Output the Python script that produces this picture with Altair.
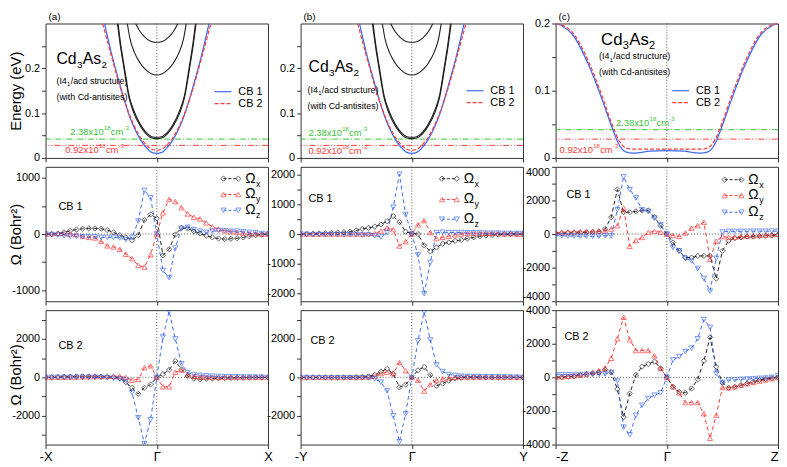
import json
import altair as alt
import pandas as pd

FONT = "Liberation Sans"
BLACK = "#1e1e1e"
RED = "#ff3a3a"
BLUE = "#3f6df2"
GREEN = "#36c236"
GRAY = "#555555"

# ---------------- band energies (eV), panels (a) and (b) ----------------
AB_CB1_K = [-0.47, -0.40, -0.35, -0.30, -0.25, -0.20, -0.15, -0.10, -0.05, 0.00,
            0.05, 0.10, 0.15, 0.20, 0.25, 0.30, 0.35, 0.40, 0.47]
AB_CB1_E = [0.300, 0.226, 0.180, 0.136, 0.097, 0.066, 0.042, 0.025, 0.013, 0.010,
            0.013, 0.025, 0.042, 0.066, 0.097, 0.136, 0.180, 0.226, 0.300]
AB_CB2_K = [-0.487, -0.40, -0.35, -0.30, -0.25, -0.20, -0.15, -0.10, -0.05, 0.00,
            0.05, 0.10, 0.15, 0.20, 0.25, 0.30, 0.35, 0.40, 0.487]
AB_CB2_E = [0.300, 0.220, 0.175, 0.135, 0.099, 0.070, 0.047, 0.031, 0.020, 0.017,
            0.020, 0.031, 0.047, 0.070, 0.099, 0.135, 0.175, 0.220, 0.300]
AB_BLK1_K = [-0.354, -0.33, -0.295, -0.25, -0.206, -0.15, -0.10, -0.05, 0.0,
             0.05, 0.10, 0.15, 0.206, 0.25, 0.295, 0.33, 0.354]
AB_BLK1_E = [0.300, 0.255, 0.200, 0.135, 0.100, 0.072, 0.055, 0.045, 0.043,
             0.045, 0.055, 0.072, 0.100, 0.135, 0.200, 0.255, 0.300]
AB_BLK2_K = [-0.348, -0.325, -0.29, -0.25, -0.20, -0.15, -0.10, -0.05, 0.0,
             0.05, 0.10, 0.15, 0.20, 0.25, 0.29, 0.325, 0.348]
AB_BLK2_E = [0.300, 0.255, 0.200, 0.140, 0.102, 0.076, 0.058, 0.048, 0.046,
             0.048, 0.058, 0.076, 0.102, 0.140, 0.200, 0.255, 0.300]
AB_BLK3_K = [-0.265, -0.24, -0.20, -0.15, -0.10, -0.05, 0.0, 0.05, 0.10, 0.15, 0.20, 0.24, 0.265]
AB_BLK3_E = [0.300, 0.265, 0.235, 0.212, 0.197, 0.188, 0.185, 0.188, 0.197, 0.212, 0.235, 0.265, 0.300]
AB_BLK4_K = [-0.19, -0.15, -0.10, -0.05, 0.0, 0.05, 0.10, 0.15, 0.19]
AB_BLK4_E = [0.300, 0.282, 0.268, 0.260, 0.258, 0.260, 0.268, 0.282, 0.300]

# ---------------- band energies (eV), panel (c) ----------------
C_K = [-1.0, -0.95, -0.85, -0.70, -0.58, -0.49, -0.43, -0.37, -0.30, -0.15, 0.0,
       0.15, 0.30, 0.37, 0.43, 0.49, 0.58, 0.70, 0.85, 0.95, 1.0]
C_CB1_E = [0.200, 0.197, 0.184, 0.137, 0.086, 0.044, 0.020, 0.009, 0.007, 0.010, 0.011,
           0.010, 0.007, 0.009, 0.020, 0.044, 0.086, 0.137, 0.184, 0.197, 0.200]
C_CB2_E = [0.200, 0.198, 0.187, 0.142, 0.091, 0.049, 0.026, 0.015, 0.013, 0.013, 0.013,
           0.013, 0.013, 0.015, 0.026, 0.049, 0.091, 0.142, 0.187, 0.198, 0.200]

FERMI_GREEN = [0.042]
FERMI_RED = [0.028]
GAMMA = [0.0]
ZERO = [0.0]

# ---------------- Berry curvature (Bohr^2) on a uniform k path ----------------
K_STEPS = 36
KX = [round(-1 + 2 * i / K_STEPS, 5) for i in range(K_STEPS + 1)]

A_CB1_X = [0, 0, 10, 30, 60, 80, 95, 100, 100, 95, 70, 30, -20, -60, -110, -20, 250, 350, 280,
           -380, -270, -10, 110, 100, 50, 10, -30, -60, -80, -90, -85, -75, -60, -40, -20, -10, 0]
A_CB1_Y = [0, 5, 10, 10, 5, -10, -40, -60, -70, -130, -210, -230, -270, -360, -440, -560, -590, -370, 0,
           380, 620, 580, 470, 360, 300, 270, 200, 130, 90, 60, 40, 30, 20, 10, 5, 0, 0]
A_CB1_Z = [0, -10, -20, -30, -40, -40, -50, -50, -50, -60, -60, -60, -70, -100, -60, 230, 780, 650, 0,
           -650, -780, -250, 100, 120, 80, 50, 30, 50, 60, 60, 50, 50, 40, 30, 20, 10, 0]

A_CB2_X = [0, 0, 10, 30, 40, 50, 50, 50, 50, 40, 30, 20, -50, -250, -540, -860, -540, -370, 0,
           170, 390, 850, 410, 70, -60, -100, -80, -60, -50, -40, -30, -20, -20, -10, 0, 0, 0]
A_CB2_Y = [0, 0, 10, 10, 20, 20, 30, 30, 40, 40, 50, 50, 60, 0, -150, -100, 500, 600, 0,
           -490, -490, 270, 390, 150, 60, 30, 20, 20, 10, 10, 10, 0, 0, 0, 0, 0, 0]
A_CB2_Z = [0, 0, 0, 0, 0, 0, 0, 0, 0, -10, -20, -50, -100, -150, -800, -2100, -3450, -2200, 0,
           2100, 3450, 2000, 700, 250, 150, 100, 80, 60, 50, 40, 30, 30, 20, 20, 10, 10, 0]

B_CB1_X = [0, 0, 10, 20, 30, 40, 50, 60, 80, 120, 170, 210, 250, 320, 430, 600, 400, 80, 20,
           0, -380, -580, -450, -320, -280, -230, -200, -150, -110, -80, -50, -30, -20, -10, 0, 0, 0]
B_CB1_Y = [0, 0, 0, 0, 0, 0, 0, 0, 0, 0, 0, 10, 20, 100, 200, 150, -400, -250, 0,
           310, 450, 50, -150, -110, -70, -30, 0, 20, 30, 30, 30, 20, 20, 10, 10, 0, 0]
B_CB1_Z = [0, -10, -20, -20, -20, -20, -20, -20, -20, -20, -30, -30, -60, -100, 50, 900, 2000, 650, 0,
           -700, -2000, -950, 50, 60, 50, 50, 50, 40, 40, 40, 30, 30, 30, 20, 20, 20, 20]

B_CB2_X = [0, 0, 0, 0, 0, 0, 0, 0, 0, 10, 20, 50, 130, 300, 440, 190, -520, -370, 0,
           370, 540, 130, -440, -320, -170, -60, -20, 0, 0, 0, 0, 0, 0, 0, 0, 0, 0]
B_CB2_Y = [0, 0, 0, 0, 0, 0, 0, 0, 0, 0, 0, 20, 50, 200, 270, 200, 780, 350, 0,
           -150, -710, -370, -150, -80, -30, 0, 20, 20, 20, 20, 20, 20, 10, 10, 10, 0, 0]
B_CB2_Z = [0, -10, -20, -20, -20, -20, -20, -20, -20, -20, -20, -30, -80, -250, -700, -2000, -3350, -1900, 0,
           1900, 3400, 1950, 650, 300, 150, 100, 60, 50, 40, 40, 30, 30, 20, 20, 10, 10, 0]

C_CB1_X = [50, 50, 60, 60, 80, 100, 120, 150, 300, 1000, 2650, 1300, 1300, 1350, 1400, 1400, 1000, 500, 0,
           -500, -1000, -1400, -1400, -1300, -1300, -1300, -2650, -1000, -400, -250, -200, -150, -150, -120, -100, -80, -50]
C_CB1_Y = [100, 100, 120, 130, 150, 160, 170, 180, 200, 300, 500, 1550, -730, -380, -200, 100, 160, 120, 0,
           -80, -140, 60, 350, 500, 700, -1500, -430, -150, -200, -180, -150, -120, -100, -80, -60, -40, -20]
C_CB1_Z = [-100, -100, -120, -120, -130, -130, -130, -130, -100, -100, 1450, 3400, 2650, 2150, 1450, 1350, 950, 550, 0,
           -800, -1000, -1450, -1600, -2050, -2650, -3400, -1450, 120, 160, 160, 160, 160, 170, 170, 170, 170, 170]

C_CB2_X = [0, 20, 40, 60, 140, 180, 240, 300, 450, 300, -700, -2360, -960, 140, 640, 800, 940, 540, 0,
           -560, -860, -920, -660, -120, 980, 2380, 640, -320, -620, -560, -460, -360, -260, -160, -100, -50, 0]
C_CB2_Y = [0, 30, 60, 100, 140, 200, 300, 400, 560, 1140, 2300, 3580, 2240, 1600, 1600, 1600, 1280, 540, 0,
           -560, -920, -1500, -1500, -1500, -2160, -3620, -2260, -600, -620, -560, -460, -380, -300, -220, -150, -80, 0]
C_CB2_Z = [150, 160, 160, 170, 170, 180, 180, 180, 200, 300, -220, -2960, -3420, -2260, -1660, -1260, -1060, -920, 0,
           1040, 1240, 1540, 1740, 2300, 3440, 2980, 240, -300, -160, -150, -120, -100, -80, -60, -40, 0, 100]

W = 225
H = 136
ONE = alt.Data(values=[{"a": 1}])

# advance widths (em, Liberation Sans) used to chain sub/superscript pieces
ADV = {"0": .556, "1": .556, "2": .556, "3": .556, "4": .556, "5": .556, "6": .556, "7": .556,
       "8": .556, "9": .556, ".": .278, "x": .5, "c": .5, "m": .833, "C": .722, "d": .556,
       "A": .667, "s": .5, "-": .333, "(": .333, "I": .278}


def tw(s, size):
    return sum(ADV.get(ch, .5) for ch in s) * size


def txt(s, x, y, size=12, color="black", align="left", baseline="middle"):
    return alt.Chart(ONE).mark_text(text=s, align=align, baseline=baseline, fontSize=size,
                                    color=color, font=FONT).encode(x=alt.value(x), y=alt.value(y))


def rich(pieces, x, y, color="black"):
    out = []
    cx = x
    for s, size, dy in pieces:
        out.append(txt(s, cx, y + dy, size=size, color=color, baseline="alphabetic"))
        cx += tw(s, size) + 0.3
    return out


def seg(x1, x2, y, color, dash=None, width=1.2):
    kw = dict(color=color, strokeWidth=width)
    if dash:
        kw["strokeDash"] = dash
    return alt.Chart(ONE).mark_rule(**kw).encode(x=alt.value(x1), x2=alt.value(x2), y=alt.value(y))


def mark_at(shape, color, x, y):
    return alt.Chart(ONE).mark_point(shape=shape, filled=False, color=color, size=28,
                                     strokeWidth=1).encode(x=alt.value(x), y=alt.value(y))


def x_axis(labels, names, flush=False):
    if not labels:
        return alt.Axis(values=[-1, 0, 1], labels=False, tickSize=4, title=None, grid=False, domain=False)
    expr = "datum.value < -0.5 ? '%s' : (datum.value > 0.5 ? '%s' : '\u0393')" % names
    return alt.Axis(values=[-1, 0, 1], labelExpr=expr, tickSize=4, labelPadding=2, labelFontSize=13,
                    labelFlush=flush, title=None, grid=False, domain=False)


def y_axis(ticks, labels, title=None, title_y=None, flush=False):
    expr = "indexof(%s, datum.value) >= 0 ? '' + datum.value : ''" % json.dumps(labels)
    kw = dict(values=ticks, labelExpr=expr, tickSize=4, labelPadding=2, labelFontSize=11,
              grid=False, domain=False, title=title, labelFlush=flush)
    if title:
        kw.update(titleX=-22, titleY=title_y, titleFontSize=15, titleFontWeight="normal",
                  titleAlign="center", titleBaseline="bottom")
    return alt.Axis(**kw)


def curves_df(pairs):
    rows = []
    for name, ks, es in pairs:
        for k, e in zip(ks, es):
            rows.append({"k": k, "E": e, "curve": name})
    return pd.DataFrame(rows)


def band_panel(black, cb1, cb2, ydom, yticks, ylabels, ytitle, tag, t):
    xs = alt.Scale(domain=[-1, 1], nice=False, zero=False)
    ys = alt.Scale(domain=ydom, nice=False, zero=False)
    X = alt.X("k:Q", scale=xs, axis=x_axis(False, None))
    Y = alt.Y("E:Q", scale=ys, axis=y_axis(yticks, ylabels, ytitle, H / 2))
    layers = [
        alt.Chart(pd.DataFrame({"k": GAMMA})).mark_rule(color=GRAY, strokeDash=[1, 2], strokeWidth=1).encode(x=X),
        alt.Chart(pd.DataFrame({"E": FERMI_GREEN})).mark_rule(color=GREEN, strokeDash=[6, 2, 1, 2], strokeWidth=1).encode(y=Y),
        alt.Chart(pd.DataFrame({"E": FERMI_RED})).mark_rule(color=RED, strokeDash=[6, 2, 1, 2, 1, 2], strokeWidth=1).encode(y=Y),
    ]
    if black:
        layers.append(alt.Chart(curves_df(black)).mark_line(color=BLACK, strokeWidth=1.1, interpolate="monotone",
                                                            clip=True).encode(x=X, y=Y, detail="curve:N"))
    layers.append(alt.Chart(curves_df([("CB 1",) + cb1])).mark_line(color=BLUE, strokeWidth=1.3, interpolate="monotone",
                                                                     clip=True).encode(x=X, y=Y))
    layers.append(alt.Chart(curves_df([("CB 2",) + cb2])).mark_line(color=RED, strokeWidth=1.2, strokeDash=[4, 2],
                                                                     interpolate="monotone", clip=True).encode(x=X, y=Y))
    (cx, cy, csz), (sx, sy), (lx, ly), (gx, gy), (rx, ry) = t
    sub = round(csz * 0.62)
    layers += rich([("Cd", csz, 0), ("3", sub, 4), ("As", csz, 0), ("2", sub, 4)], cx, cy)
    layers += rich([("(I4", 9, 0), ("1", 6, 2.5), ("/acd structure)", 9, 0)], sx, sy)
    layers.append(txt("(with Cd-antisites)", sx, sy + 16, size=9, baseline="alphabetic"))
    layers += [
        seg(lx, lx + 17, ly, BLUE),
        seg(lx, lx + 17, ly + 12, RED, dash=[4, 2]),
        txt("CB 1", lx + 24, ly, size=11),
        txt("CB 2", lx + 24, ly + 12, size=11),
        txt(tag, 3, -7, size=10, baseline="middle"),
    ]
    layers += rich([("2.38x10", 9.5, 0), ("18", 6, -5), ("cm", 9.5, 0), ("-3", 6, -5)], gx, gy, color=GREEN)
    layers += rich([("0.92x10", 9.5, 0), ("18", 6, -5), ("cm", 9.5, 0), ("-3", 6, -5)], rx, ry, color=RED)
    return alt.layer(*layers).properties(width=W, height=H)


def berry_panel(ox, oy, oz, ydom, yticks, ylabels, ytitle, title_y, xlab, names, flush, cb, cbpos, leg,
                yflush=False):
    rows = []
    for comp, arr in (("x", ox), ("y", oy), ("z", oz)):
        for k, v in zip(KX, arr):
            rows.append({"k": k, "E": v, "comp": comp})
    df = pd.DataFrame(rows)
    xs = alt.Scale(domain=[-1, 1], nice=False, zero=False)
    ys = alt.Scale(domain=ydom, nice=False, zero=False)
    X = alt.X("k:Q", scale=xs, axis=x_axis(xlab, names, flush))
    Y = alt.Y("E:Q", scale=ys, axis=y_axis(yticks, ylabels, ytitle, title_y, yflush))
    col = alt.Color("comp:N", scale=alt.Scale(domain=["x", "y", "z"], range=[BLACK, RED, BLUE]), legend=None)
    shp = alt.Shape("comp:N", scale=alt.Scale(domain=["x", "y", "z"],
                                              range=["diamond", "triangle-up", "triangle-down"]), legend=None)
    layers = [
        alt.Chart(pd.DataFrame({"k": GAMMA})).mark_rule(color=GRAY, strokeDash=[1, 2], strokeWidth=1).encode(x=X),
        alt.Chart(pd.DataFrame({"E": ZERO})).mark_rule(color=GRAY, strokeDash=[1, 2], strokeWidth=1).encode(y=Y),
        alt.Chart(df).mark_line(strokeDash=[4, 3], strokeWidth=1, clip=True).encode(x=X, y=Y, color=col),
        alt.Chart(df).mark_point(filled=False, size=28, strokeWidth=1, clip=True).encode(x=X, y=Y, color=col, shape=shp),
        txt(cb, cbpos[0], cbpos[1], size=11),
    ]
    if leg:
        x1, x2, ys_ = leg
        for (shape, color, sub), yy in zip((("diamond", BLACK, "x"), ("triangle-up", RED, "y"),
                                            ("triangle-down", BLUE, "z")), ys_):
            layers += [
                seg(x1, x2, yy, color, dash=[3, 2], width=1),
                mark_at(shape, color, x1, yy),
                mark_at(shape, color, x2, yy),
                txt("\u03a9", x2 + 7, yy, size=14),
                txt(sub, x2 + 18, yy + 5, size=9),
            ]
    return alt.layer(*layers).properties(width=W, height=H)


# (Cd3As2 x, baseline, size), (structure text x, baseline), (legend x, y), green label, red label
T_A = ((11, 41, 16), (11, 61), (171, 69), (25, 113), (20, 131))
T_B = ((8, 49, 16), (7, 70), (168, 68), (8, 114), (8, 132))
T_C = ((46, 22, 17), (44, 36), (118, 68), (61, 104), (4, 131))

black_ab = [("b1", AB_BLK1_K, AB_BLK1_E), ("b2", AB_BLK2_K, AB_BLK2_E),
            ("b3", AB_BLK3_K, AB_BLK3_E), ("b4", AB_BLK4_K, AB_BLK4_E)]
E_TICKS_AB = [0, 0.05, 0.1, 0.15, 0.2, 0.25]
E_TICKS_C = [0, 0.05, 0.1, 0.15, 0.2]
E_LAB = [0, 0.1, 0.2]

a1 = band_panel(black_ab, (AB_CB1_K, AB_CB1_E), (AB_CB2_K, AB_CB2_E), [0, 0.3], E_TICKS_AB, E_LAB,
                "Energy (eV)", "(a)", T_A)
b1 = band_panel(black_ab, (AB_CB1_K, AB_CB1_E), (AB_CB2_K, AB_CB2_E), [0, 0.3], E_TICKS_AB, E_LAB,
                None, "(b)", T_B)
c1 = band_panel(None, (C_K, C_CB1_E), (C_K, C_CB2_E), [0, 0.2], E_TICKS_C, E_LAB, None, "(c)", T_C)

OM = "\u03a9 (Bohr\u00b2)"
a2 = berry_panel(A_CB1_X, A_CB1_Y, A_CB1_Z, [-1200, 1200], [-1000, -500, 0, 500, 1000], [-1000, 0, 1000],
                 OM, H / 2, False, None, False, "CB 1", (13, 41), (180, 195, (12, 28, 44)))
b2 = berry_panel(B_CB1_X, B_CB1_Y, B_CB1_Z, [-2250, 2250], [-2000, -1500, -1000, -500, 0, 500, 1000, 1500, 2000],
                 [-2000, -1000, 0, 1000, 2000], None, None, False, None, False, "CB 1", (8, 33), (143, 158, (12, 33, 53)))
c2 = berry_panel(C_CB1_X, C_CB1_Y, C_CB1_Z, [-4000, 4000], [-4000, -3000, -2000, -1000, 0, 1000, 2000, 3000, 4000],
                 [-4000, -2000, 0, 2000, 4000], None, None, False, None, False, "CB 1", (11, 29), (171, 188, (13, 29, 46)),
                 yflush=True)
a3 = berry_panel(A_CB2_X, A_CB2_Y, A_CB2_Z, [-3500, 3500], [-3000, -2000, -1000, 0, 1000, 2000, 3000],
                 [-2000, 0, 2000], OM, H / 2 - 3, True, ("-X", "X"), False, "CB 2", (13, 36), None)
b3 = berry_panel(B_CB2_X, B_CB2_Y, B_CB2_Z, [-3500, 3500], [-3000, -2000, -1000, 0, 1000, 2000, 3000],
                 [-2000, 0, 2000], None, None, True, ("-Y", "Y"), False, "CB 2", (10, 31), None)
c3 = berry_panel(C_CB2_X, C_CB2_Y, C_CB2_Z, [-4000, 4000], [-4000, -3000, -2000, -1000, 0, 1000, 2000, 3000, 4000],
                 [-4000, -2000, 0, 2000, 4000], None, None, True, ("-Z", "Z"), True, "CB 2", (9, 27), None)

chart = alt.concat(a1, b1, c1, a2, b2, c2, a3, b3, c3, columns=3,
                   spacing={"row": 9, "column": 33}, bounds="flush").properties(
    padding={"left": 0, "top": 0, "right": 0, "bottom": 0}
).configure_view(stroke="#333333", strokeWidth=1).configure_axis(
    labelFont=FONT, titleFont=FONT, labelColor="black", tickColor="#333333", titleColor="black"
)

chart.save("out.html", embed_options={"renderer": "svg", "actions": False})
